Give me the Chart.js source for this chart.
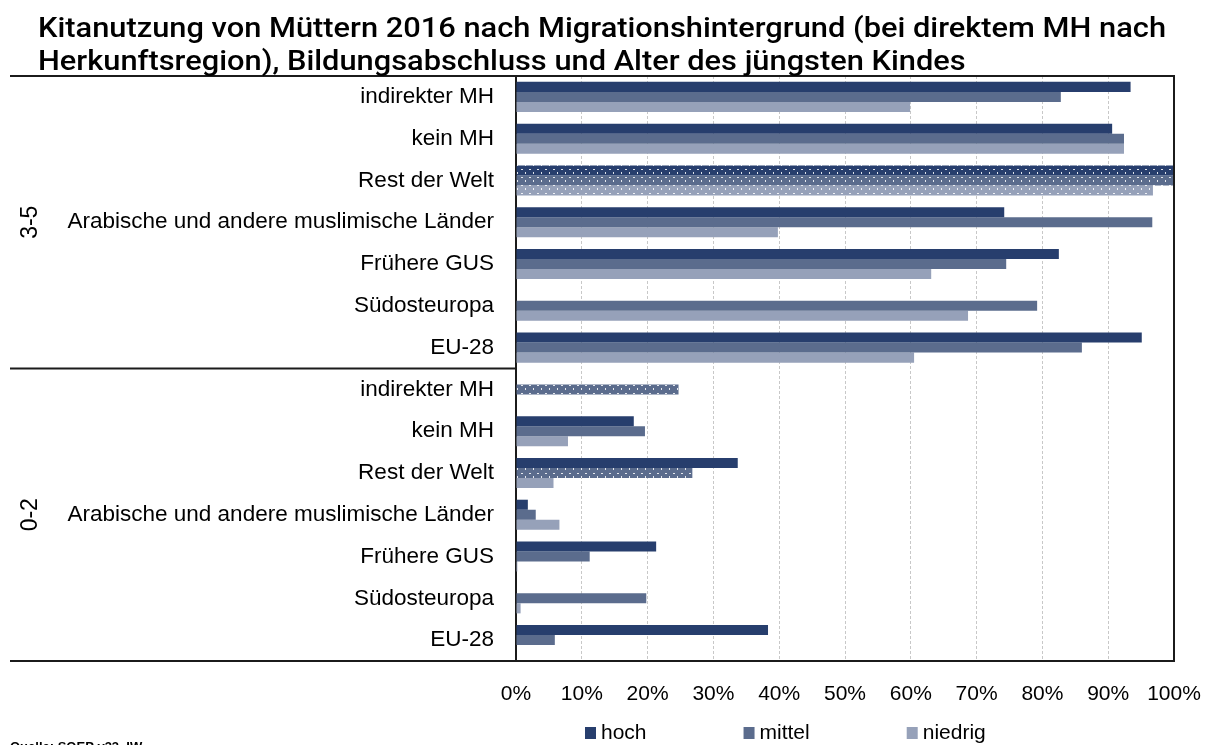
<!DOCTYPE html>
<html lang="de">
<head>
<meta charset="utf-8">
<title>Kitanutzung von Müttern 2016</title>
<script src="https://cdn.jsdelivr.net/npm/chart.js@4.4.1/dist/chart.umd.min.js"></script>
<style>
  html, body { margin: 0; padding: 0; background: #fff; }
  #wrap { position: relative; width: 1212px; height: 745px; }
</style>
</head>
<body>
<div id="wrap"><canvas id="kitaChart" width="1212" height="745"></canvas></div>
<script>
// =============== DATEN ===============
const altersgruppen = ['3-5', '0-2'];
const regionen = ['indirekter MH', 'kein MH', 'Rest der Welt', 'Arabische und andere muslimische Länder',
                  'Frühere GUS', 'Südosteuropa', 'EU-28'];
const kategorien = [...regionen, ...regionen]; // erst 3-5, dann 0-2

// Anteil in %, null = kein Balken
const hoch    = [93.4, 90.6, 100, 74.2, 82.5, null, 95.1,   null, 17.9, 33.7, 1.8, 21.3, null, 38.3];
const mittel  = [82.8, 92.4, 100, 96.7, 74.5, 79.2, 86.0,   24.7, 19.6, 26.8, 3.0, 11.2, 19.8, 5.9];
const niedrig = [59.9, 92.4, 96.8, 39.8, 63.1, 68.7, 60.5,  null, 7.9, 5.7, 6.6, 0.2, 0.7, null];

// gepunktete Balken (geringe Fallzahl)
const gepunktetHoch    = [2];
const gepunktetMittel  = [2, 7, 9];
const gepunktetNiedrig = [2];

const xTickWerte = [0, 10, 20, 30, 40, 50, 60, 70, 80, 90, 100];

const titelZeilen = [
  'Kitanutzung von Müttern 2016 nach Migrationshintergrund (bei direktem MH nach',
  'Herkunftsregion), Bildungsabschluss und Alter des jüngsten Kindes'
];
const quelle = 'Quelle: SOEP v33, IW';

// =============== FARBEN ===============
const farbeHoch = '#273e6d';
const farbeMittel = '#5b6c8d';
const farbeNiedrig = '#96a1b9';
const schrift = "'Liberation Sans', Arial, sans-serif";

// Punktmuster für die gepunkteten Balken
function punktMuster(farbe) {
  const c = document.createElement('canvas');
  c.width = 8; c.height = 8;
  const g = c.getContext('2d');
  g.fillStyle = farbe;
  g.fillRect(0, 0, 8, 8);
  g.fillStyle = 'rgba(255,255,255,0.85)';
  g.fillRect(1, 1, 2, 1);
  g.fillRect(5, 4, 1, 2);
  return g.createPattern(c, 'repeat');
}
const musterHoch = punktMuster(farbeHoch);
const musterMittel = punktMuster(farbeMittel);
const musterNiedrig = punktMuster(farbeNiedrig);

// =============== PLUGIN: Rahmen, Titel, Gruppen, Legende ===============
const rahmenPlugin = {
  id: 'rahmen',
  afterDraw(chart) {
    const { ctx, chartArea: ca, scales: { y } } = chart;
    ctx.save();

    // Rahmen + Trennlinien
    const trenn = (y.getPixelForValue(regionen.length - 1) + y.getPixelForValue(regionen.length)) / 2;
    ctx.strokeStyle = '#1b1b1b';
    ctx.lineWidth = 2;
    ctx.beginPath();
    ctx.moveTo(10, ca.top); ctx.lineTo(ca.right, ca.top);
    ctx.lineTo(ca.right, ca.bottom); ctx.lineTo(10, ca.bottom);
    ctx.moveTo(10, trenn); ctx.lineTo(ca.left, trenn);
    ctx.stroke();

    // Altersgruppen (gedreht)
    ctx.fillStyle = '#000';
    ctx.font = '23px ' + schrift;
    ctx.textAlign = 'center';
    ctx.textBaseline = 'middle';
    const mitten = [(ca.top + trenn) / 2, (trenn + ca.bottom) / 2];
    altersgruppen.forEach((txt, i) => {
      ctx.save();
      ctx.translate(31, mitten[i]);
      ctx.rotate(-Math.PI / 2);
      ctx.fillText(txt, 0, 0);
      ctx.restore();
    });

    // Titel (auf Breite des Originals gestreckt)
    ctx.textAlign = 'left';
    ctx.textBaseline = 'alphabetic';
    ctx.font = '500 27px Roboto, ' + schrift;
    const streck = 1128 / ctx.measureText(titelZeilen[0]).width;
    ctx.save();
    ctx.translate(38, 0);
    ctx.scale(streck, 1);
    ctx.fillText(titelZeilen[0], 0, 37);
    ctx.fillText(titelZeilen[1], 0, 70);
    ctx.restore();

    // Legende
    ctx.font = '21px ' + schrift;
    ctx.textBaseline = 'middle';
    let lx = 585;
    chart.data.datasets.forEach(ds => {
      ctx.fillStyle = ds.legendFarbe;
      ctx.fillRect(lx, 727, 11, 12);
      ctx.fillStyle = '#000';
      ctx.fillText(ds.label, lx + 16, 733);
      lx += 16 + ctx.measureText(ds.label).width + 97;
    });

    // Quelle (unten abgeschnitten)
    ctx.font = 'bold 13px ' + schrift;
    ctx.textBaseline = 'alphabetic';
    ctx.fillStyle = '#000';
    ctx.fillText(quelle, 10, 751);

    ctx.restore();
  }
};

// =============== CHART ===============
const ctxKita = document.getElementById('kitaChart').getContext('2d');
new Chart(ctxKita, {
  type: 'bar',
  data: {
    labels: kategorien,
    datasets: [
      { label: 'hoch', data: hoch, legendFarbe: farbeHoch,
        backgroundColor: c => gepunktetHoch.includes(c.dataIndex) ? musterHoch : farbeHoch },
      { label: 'mittel', data: mittel, legendFarbe: farbeMittel,
        backgroundColor: c => gepunktetMittel.includes(c.dataIndex) ? musterMittel : farbeMittel },
      { label: 'niedrig', data: niedrig, legendFarbe: farbeNiedrig,
        backgroundColor: c => gepunktetNiedrig.includes(c.dataIndex) ? musterNiedrig : farbeNiedrig }
    ]
  },
  options: {
    indexAxis: 'y',
    responsive: false,
    animation: false,
    barPercentage: 1,
    categoryPercentage: 0.72,
    layout: { padding: { top: 76, right: 38, bottom: 0, left: 0 } },
    plugins: {
      legend: { display: false },
      title: { display: false },
      tooltip: { enabled: false }
    },
    scales: {
      x: {
        min: 0,
        max: 100,
        afterFit: s => { s.height = 84; s.paddingLeft = 0; s.paddingRight = 0; },
        afterBuildTicks: s => { s.ticks = xTickWerte.map(v => ({ value: v })); },
        ticks: {
          callback: v => v + '%',
          color: '#000',
          padding: 21,
          maxRotation: 0,
          font: { family: schrift, size: 21 }
        },
        grid: { color: '#c8c8c8', lineWidth: 1, drawTicks: false },
        border: { display: false, dash: [3, 2] }
      },
      y: {
        afterFit: s => { s.width = 516; s.paddingTop = 0; s.paddingBottom = 0; },
        ticks: {
          color: '#000',
          padding: 22,
          autoSkip: false,
          font: { family: schrift, size: 22.5 }
        },
        grid: { display: false, drawTicks: false },
        border: { display: true, color: '#1b1b1b', width: 2 }
      }
    }
  },
  plugins: [rahmenPlugin]
});
</script>
</body>
</html>
